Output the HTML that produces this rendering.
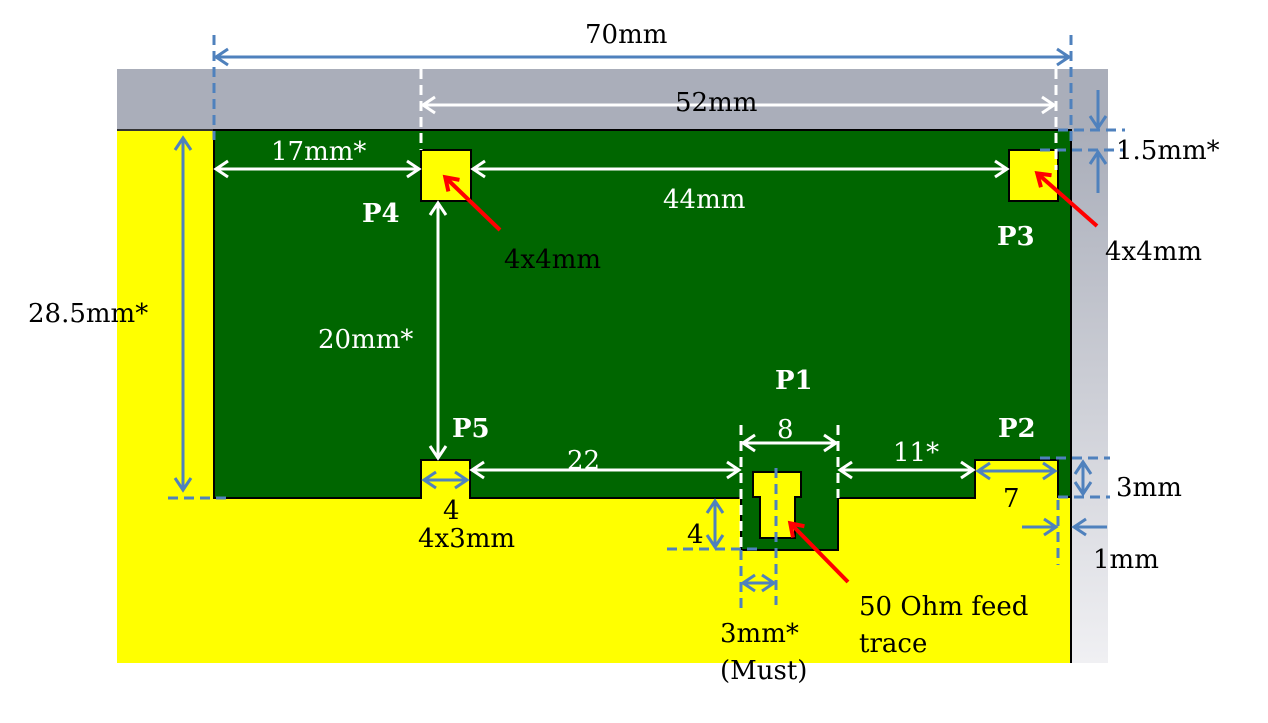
<!DOCTYPE html>
<html><head><meta charset="utf-8"><style>
html,body{margin:0;padding:0;background:#fff;width:1268px;height:723px;overflow:hidden}
svg{display:block}
text{font-family:"DejaVu Serif","Liberation Serif",serif;font-size:26px}
.w{fill:#fff}.k{fill:#000}.b{font-weight:bold}
</style></head><body>
<svg width="1268" height="723" viewBox="0 0 1268 723" xmlns="http://www.w3.org/2000/svg">
<defs>
<linearGradient id="g" x1="0" y1="0" x2="0" y2="1"><stop offset="0" stop-color="#aaaeba"/><stop offset="1" stop-color="#f0f0f3"/></linearGradient>
<marker id="aw" markerWidth="20" markerHeight="20" refX="14" refY="10" orient="auto-start-reverse" markerUnits="userSpaceOnUse"><polyline points="2,2 14,10 2,18" fill="none" stroke="#fff" stroke-width="3"/></marker>
<marker id="ab" markerWidth="20" markerHeight="20" refX="14" refY="10" orient="auto-start-reverse" markerUnits="userSpaceOnUse"><polyline points="2,2 14,10 2,18" fill="none" stroke="#4f81bd" stroke-width="3"/></marker>
<marker id="ar" markerWidth="20" markerHeight="20" refX="12" refY="10" orient="auto" markerUnits="userSpaceOnUse"><polyline points="1,2 13,10 1,18" fill="none" stroke="#f00" stroke-width="4"/></marker>
</defs>
<!-- background regions -->
<rect x="117" y="69" width="991" height="61" fill="#aaaeba"/>
<rect x="1071" y="130" width="37" height="533" fill="url(#g)"/>
<rect x="117" y="130" width="954" height="533" fill="#ffff00"/>
<line x1="117" y1="130" x2="1071" y2="130" stroke="#333" stroke-width="2"/>
<line x1="1071" y1="130" x2="1071" y2="663" stroke="#000" stroke-width="2"/>
<!-- board -->
<path d="M214,130 H1071 V497 H1058 V460 H975 V498 H838 V550 H741 V498 H470 V460 H421 V498 H214 Z" fill="#006600" stroke="#000" stroke-width="2"/>
<path d="M753,472 H801 V497 H795 V538 H760 V497 H753 Z" fill="#ffff00" stroke="#000" stroke-width="2"/>
<rect x="421" y="150" width="50" height="51" fill="#ffff00" stroke="#000" stroke-width="2"/>
<rect x="1009" y="150" width="49" height="51" fill="#ffff00" stroke="#000" stroke-width="2"/>

<!-- blue dashed lines -->
<g stroke="#4f81bd" stroke-width="3" stroke-dasharray="10,6" fill="none">
<line x1="214" y1="35" x2="214" y2="140"/>
<line x1="1071" y1="35" x2="1071" y2="145"/>
<line x1="168" y1="498" x2="232" y2="498"/>
<line x1="1058" y1="130" x2="1125" y2="130"/>
<line x1="1040" y1="150" x2="1125" y2="150"/>
<line x1="1040" y1="458" x2="1110" y2="458"/>
<line x1="1058" y1="497" x2="1110" y2="497"/>
<line x1="1058" y1="500" x2="1058" y2="565"/>
<line x1="667" y1="549" x2="760" y2="549"/>
<line x1="741" y1="550" x2="741" y2="610"/>
<line x1="776" y1="468" x2="776" y2="605"/>
</g>
<!-- white dashed -->
<g stroke="#fff" stroke-width="3" stroke-dasharray="10,6" fill="none">
<line x1="421" y1="69" x2="421" y2="150"/>
<line x1="1056" y1="69" x2="1056" y2="170"/>
<line x1="741" y1="425" x2="741" y2="550"/>
<line x1="838" y1="425" x2="838" y2="498"/>
</g>
<!-- blue dims -->
<g stroke="#4f81bd" stroke-width="3" fill="none">
<line x1="216" y1="57" x2="1069" y2="57" marker-start="url(#ab)" marker-end="url(#ab)"/>
<line x1="183" y1="138" x2="183" y2="490" marker-start="url(#ab)" marker-end="url(#ab)"/>
<line x1="1098" y1="90" x2="1098" y2="128" marker-end="url(#ab)"/>
<line x1="1098" y1="193" x2="1098" y2="152" marker-end="url(#ab)"/>
<line x1="1083" y1="462" x2="1083" y2="494" marker-start="url(#ab)" marker-end="url(#ab)"/>
<line x1="1022" y1="527" x2="1056" y2="527" marker-end="url(#ab)"/>
<line x1="1107" y1="527" x2="1074" y2="527" marker-end="url(#ab)"/>
<line x1="978" y1="471" x2="1055" y2="471" marker-start="url(#ab)" marker-end="url(#ab)"/>
<line x1="424" y1="480" x2="467" y2="480" marker-start="url(#ab)" marker-end="url(#ab)"/>
<line x1="715" y1="501" x2="715" y2="547" marker-start="url(#ab)" marker-end="url(#ab)"/>
<line x1="743" y1="583" x2="774" y2="583" marker-start="url(#ab)" marker-end="url(#ab)"/>
</g>
<!-- white dims -->
<g stroke="#fff" stroke-width="3" fill="none">
<line x1="423" y1="105" x2="1054" y2="105" marker-start="url(#aw)" marker-end="url(#aw)"/>
<line x1="216" y1="169" x2="419" y2="169" marker-start="url(#aw)" marker-end="url(#aw)"/>
<line x1="473" y1="169" x2="1007" y2="169" marker-start="url(#aw)" marker-end="url(#aw)"/>
<line x1="438" y1="203" x2="438" y2="458" marker-start="url(#aw)" marker-end="url(#aw)"/>
<line x1="472" y1="470" x2="739" y2="470" marker-start="url(#aw)" marker-end="url(#aw)"/>
<line x1="743" y1="443" x2="836" y2="443" marker-start="url(#aw)" marker-end="url(#aw)"/>
<line x1="840" y1="470" x2="973" y2="470" marker-start="url(#aw)" marker-end="url(#aw)"/>
</g>
<!-- red arrows -->
<g stroke="#f00" stroke-width="4" fill="none">
<line x1="500" y1="230" x2="446" y2="178" marker-end="url(#ar)"/>
<line x1="1097" y1="226" x2="1038" y2="174" marker-end="url(#ar)"/>
<line x1="848" y1="582" x2="791" y2="524" marker-end="url(#ar)"/>
</g>
<!-- labels -->
<text x="585" y="43" class="k">70mm</text>
<text x="675" y="111" class="k">52mm</text>
<text x="271" y="160" class="w">17mm*</text>
<text x="663" y="208" class="w">44mm</text>
<text x="1116" y="159" class="k">1.5mm*</text>
<text x="504" y="268" class="k">4x4mm</text>
<text x="1105" y="260" class="k">4x4mm</text>
<text x="362" y="222" class="w b" font-size="25">P4</text>
<text x="997" y="245" class="w b" font-size="25">P3</text>
<text x="28" y="322" class="k">28.5mm*</text>
<text x="318" y="348" class="w">20mm*</text>
<text x="775" y="389" class="w b" font-size="25">P1</text>
<text x="452" y="437" class="w b" font-size="25">P5</text>
<text x="998" y="437" class="w b" font-size="25">P2</text>
<text x="777" y="438" class="w">8</text>
<text x="567" y="469" class="w">22</text>
<text x="893" y="461" class="w">11*</text>
<text x="1116" y="496" class="k">3mm</text>
<text x="1003" y="507" class="k">7</text>
<text x="443" y="519" class="k">4</text>
<text x="418" y="547" class="k">4x3mm</text>
<text x="687" y="543" class="k">4</text>
<text x="1093" y="568" class="k">1mm</text>
<text x="859" y="615" class="k">50 Ohm feed</text>
<text x="859" y="652" class="k">trace</text>
<text x="720" y="642" class="k">3mm*</text>
<text x="720" y="679" class="k">(Must)</text>
</svg>
</body></html>
